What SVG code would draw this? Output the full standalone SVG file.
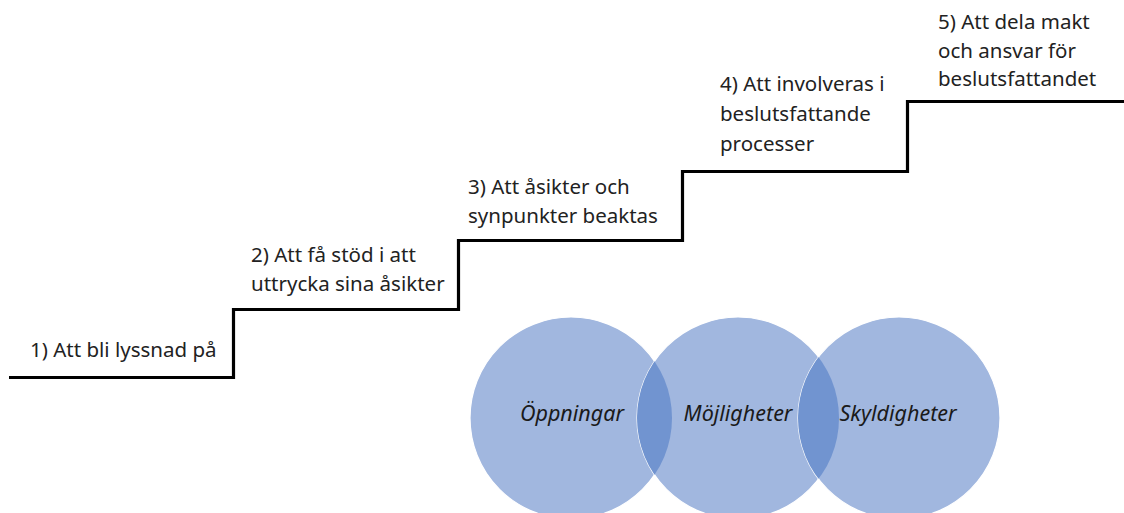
<svg xmlns="http://www.w3.org/2000/svg" width="1124" height="513" viewBox="0 0 1124 513">
<style>
.lbl{font-family:"Noto Sans","Open Sans",sans-serif;font-size:20.5px;fill:#222}
.cl{font-family:"Noto Sans","Open Sans",sans-serif;font-size:21.5px;font-style:italic;fill:#1a1a1a;text-anchor:middle}
.c{fill:#A1B7DF;stroke:#ffffff;stroke-width:1.2}
.lens{fill:#7194D0}
</style>
<defs>
<clipPath id="c1"><circle cx="571" cy="418" r="101"/></clipPath>
<clipPath id="c2"><circle cx="738" cy="418" r="101"/></clipPath>
</defs>
<rect width="1124" height="513" fill="#fff"/>
<g id="connectors">
<path d="M9 377.5 H233.5 V309.5 H458.5 V240.5 H682.5 V171.5 H907.5 V101.5 H1124" fill="none" stroke="#000" stroke-width="3.2"/>
</g>
<g id="step1"><text class="lbl" x="30" y="357">1) Att bli lyssnad på</text></g>
<g id="step2"><text class="lbl" x="251" y="262">2) Att få stöd i att</text><text class="lbl" x="251" y="291">uttrycka sina åsikter</text></g>
<g id="step3"><text class="lbl" x="468" y="194">3) Att åsikter och</text><text class="lbl" x="468" y="223">synpunkter beaktas</text></g>
<g id="step4"><text class="lbl" x="720" y="91">4) Att involveras i</text><text class="lbl" x="720" y="121">beslutsfattande</text><text class="lbl" x="720" y="151">processer</text></g>
<g id="step5"><text class="lbl" x="938" y="29">5) Att dela makt</text><text class="lbl" x="938" y="58">och ansvar för</text><text class="lbl" x="938" y="86">beslutsfattandet</text></g>
<g id="circles">
<circle class="c" cx="571" cy="418" r="101"/>
<circle class="c" cx="738" cy="418" r="101"/>
<circle class="c" cx="899" cy="418" r="101"/>
<circle class="lens" cx="738" cy="418" r="101" clip-path="url(#c1)"/>
<circle class="lens" cx="899" cy="418" r="101" clip-path="url(#c2)"/>
</g>
<g id="oppningar"><text class="cl" x="572" y="421">Öppningar</text></g>
<g id="mojligheter"><text class="cl" x="738" y="421">Möjligheter</text></g>
<g id="skyldigheter"><text class="cl" x="898" y="421">Skyldigheter</text></g>
</svg>
